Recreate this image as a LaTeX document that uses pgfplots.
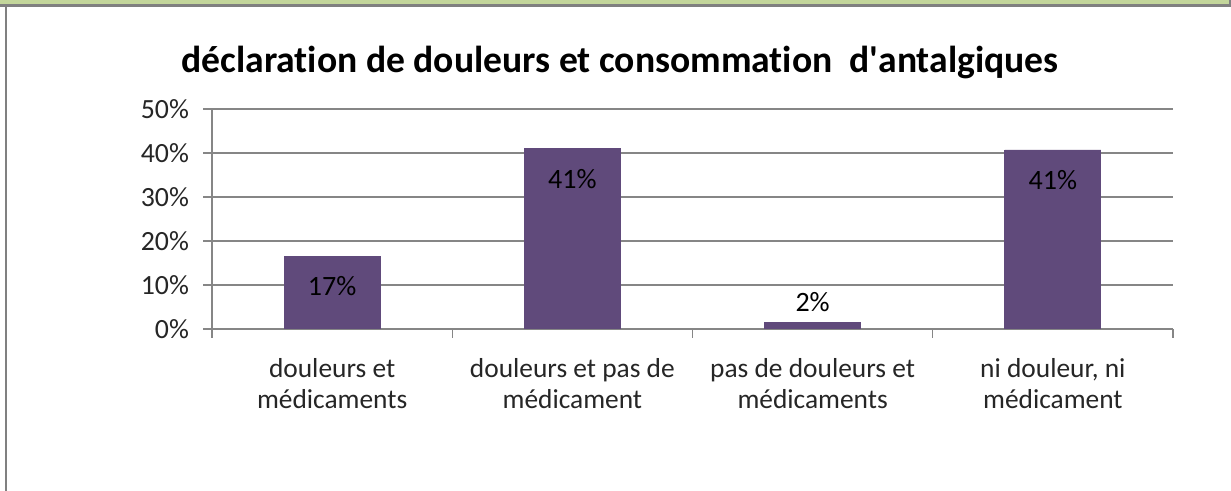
\documentclass[border=0pt]{standalone}
\usepackage{fontspec}
\setmainfont{Carlito}[Ligatures=NoCommon]
\usepackage{pgfplots}
\pgfplotsset{compat=1.18}
\definecolor{barc}{RGB}{96,74,123}
\definecolor{gridc}{RGB}{134,134,134}
\definecolor{greenb}{RGB}{195,214,155}
\definecolor{frameg}{RGB}{128,128,128}
\definecolor{txt}{RGB}{38,38,38}
\begin{document}
\begin{tikzpicture}
\useasboundingbox (0,0) rectangle (615.5pt,245.5pt);
\fill[white] (0,0) rectangle (615.5pt,245.5pt);
\fill[greenb] (0,243.3pt) rectangle (615pt,245.5pt);
\fill[frameg] (0,241.9pt) rectangle (615pt,243.4pt);
\fill[frameg] (614.5pt,241.9pt) rectangle (615.5pt,245.5pt);
\fill[frameg] (2.5pt,0) rectangle (3.7pt,243pt);
\node[font=\fontsize{18.8}{22}\selectfont\bfseries, text=black] at (310pt,214pt) {déclaration de douleurs et consommation\ \ d\textquotesingle antalgiques};
\begin{axis}[
  at={(106pt,81pt)}, anchor=south west,
  scale only axis, width=480.5pt, height=110pt,
  xmin=-0.5, xmax=3.5, ymin=0, ymax=50,
  axis x line=bottom, axis y line=left,
  axis line style={-, draw=gridc, line width=0.7pt},
  ytick={0,10,20,30,40,50},
  yticklabel={\pgfmathprintnumber{\tick}\%},
  /pgf/number format/assume math mode=true,
  ymajorgrids, grid style={draw=gridc, line width=0.7pt},
  major tick style={draw=gridc, line width=0.7pt},
  tick align=outside,
  major tick length=4.5pt,
  xtick={-0.5,0.5,1.5,2.5,3.5},
  xticklabels={},
  extra x ticks={0,1,2,3},
  extra x tick labels={{douleurs et\\médicaments},{douleurs et pas de\\médicament},{pas de douleurs et\\médicaments},{ni douleur, ni\\médicament}},
  extra x tick style={major tick length=0pt, grid=none,
    xticklabel style={align=center, font=\fontsize{13.7}{15.5}\selectfont, text=txt, yshift=-11pt}},
  yticklabel style={font=\fontsize{13.9}{16}\selectfont, text=txt, xshift=-3.5pt},
  ybar, bar width=48pt, bar shift=0pt,
  point meta=explicit symbolic,
  nodes near coords,
  every node near coord/.append style={font=\fontsize{14}{16}\selectfont, text=black, anchor=center},
]
\addplot[fill=barc, draw=barc, every node near coord/.append style={yshift=-15pt}] coordinates {(0,16.5) [17\%] (1,41) [41\%] (3,40.7) [41\%]};
\addplot[fill=barc, draw=barc, every node near coord/.append style={yshift=10pt}] coordinates {(2,1.5) [2\%]};
\end{axis}
\end{tikzpicture}
\end{document}
